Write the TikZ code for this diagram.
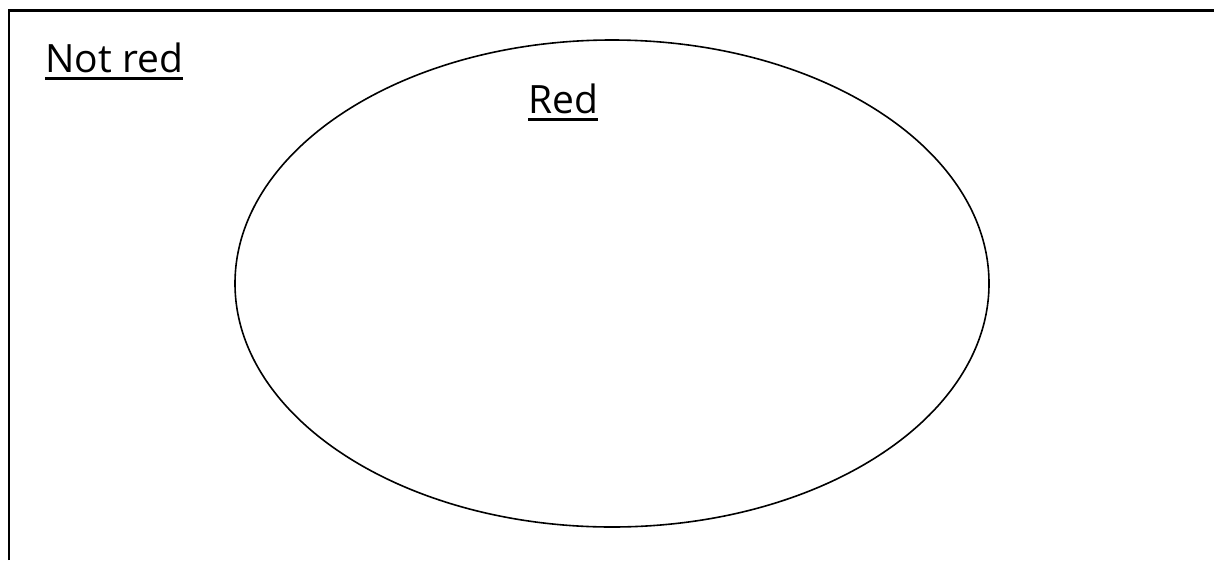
\documentclass[tikz,border=0pt]{standalone}
\usepackage{fontspec}
\setmainfont{Open Sans}
\begin{document}
\begin{tikzpicture}[x=1pt,y=-1pt,
  lbl/.style={inner sep=0pt, anchor=base west, font=\fontsize{39}{44}\selectfont},
  uline/.style={line width=3pt}]
\useasboundingbox (0,0) rectangle (1214,560);
\fill[white] (0,0) rectangle (1214,560);
\draw[line width=2.5pt] (9,560) -- (9,10.5) -- (1214,10.5);
\draw[line width=1.6pt] (612,283.5) ellipse [x radius=377, y radius=243.5];
\node[lbl] (nr) at (45,72) {Not red};
\draw[uline] ([yshift=-6pt]nr.base west) -- ([yshift=-6pt]nr.base east);
\node[lbl] (rd) at (528,113) {Red};
\draw[uline] ([yshift=-6pt]rd.base west) -- ([yshift=-6pt]rd.base east);
\end{tikzpicture}
\end{document}
